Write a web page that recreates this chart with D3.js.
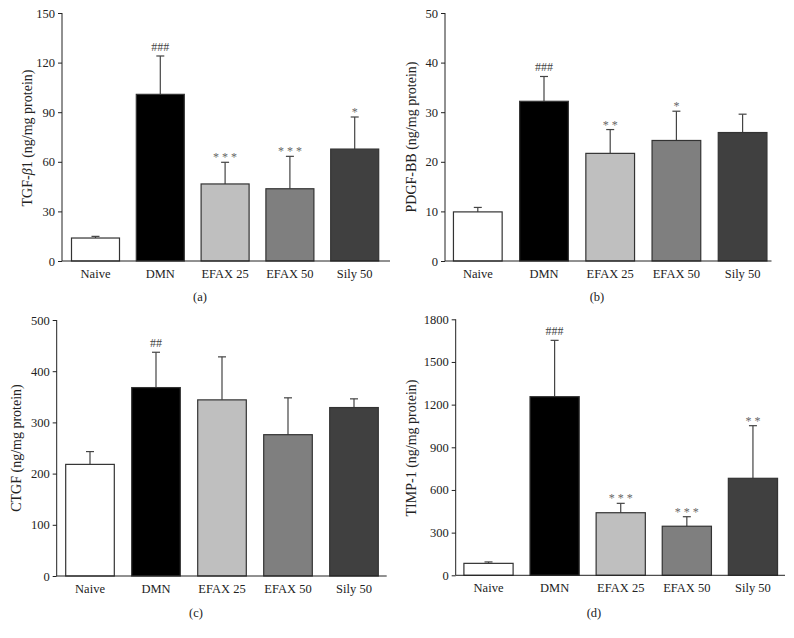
<!DOCTYPE html>
<html>
<head>
<meta charset="utf-8">
<script src="https://cdn.jsdelivr.net/npm/d3@7"></script>
<style>
  html, body { margin: 0; padding: 0; background: #fff; }
  svg { display: block; }
  text { font-family: "Liberation Serif", "DejaVu Serif", serif; fill: #222; }
</style>
</head>
<body>
<svg id="chart" width="794" height="638"></svg>
<script>
// ---------- Data ----------
const categories = ["Naive", "DMN", "EFAX 25", "EFAX 50", "Sily 50"];
const barFills = ["#ffffff", "#000000", "#bfbfbf", "#7f7f7f", "#404040"];

const tgfMean = [13.9, 100.8, 46.6, 43.7, 67.7];
const tgfErr  = [1.0, 23.2, 13.1, 19.6, 19.4];
const tgfAnno = ["", "###", "***", "***", "*"];
const tgfTicks = [0, 30, 60, 90, 120, 150];

const pdgfMean = [9.9, 32.2, 21.7, 24.3, 25.9];
const pdgfErr  = [0.9, 5.0, 4.8, 5.9, 3.7];
const pdgfAnno = ["", "###", "**", "*", ""];
const pdgfTicks = [0, 10, 20, 30, 40, 50];

const ctgfMean = [218, 368, 344, 276, 329];
const ctgfErr  = [25, 69, 84, 72, 17];
const ctgfAnno = ["", "##", "", "", ""];
const ctgfTicks = [0, 100, 200, 300, 400, 500];

const timpMean = [84, 1256, 440, 345, 682];
const timpErr  = [10, 396, 66, 67, 370];
const timpAnno = ["", "###", "***", "***", "**"];
const timpTicks = [0, 300, 600, 900, 1200, 1500, 1800];

// ---------- Layout ----------
const panels = [
  { mean: tgfMean, err: tgfErr, anno: tgfAnno, ticks: tgfTicks, label: "a",
    axisX: 62, axisEnd: 390, y0: 261, yTop: 13, band: [63.1, 387.1], bw: 48,
    ylabX: 27, ylabY: 138, panX: 200, panY: 301, title: "tgf" },
  { mean: pdgfMean, err: pdgfErr, anno: pdgfAnno, ticks: pdgfTicks, label: "b",
    axisX: 445, axisEnd: 771.5, y0: 261, yTop: 13, band: [444.7, 775.7], bw: 48.7,
    ylabX: 411, ylabY: 137, panX: 597, panY: 301, title: "PDGF-BB (ng/mg protein)" },
  { mean: ctgfMean, err: ctgfErr, anno: ctgfAnno, ticks: ctgfTicks, label: "c",
    axisX: 56.7, axisEnd: 386.7, y0: 576, yTop: 320, band: [57, 387], bw: 48.6,
    ylabX: 16, ylabY: 448, panX: 196, panY: 617, title: "CTGF (ng/mg protein)" },
  { mean: timpMean, err: timpErr, anno: timpAnno, ticks: timpTicks, label: "d",
    axisX: 455.7, axisEnd: 785, y0: 575.3, yTop: 319.3, band: [455.45, 786], bw: 49.2,
    ylabX: 411.5, ylabY: 448, panX: 594, panY: 617, title: "TIMP-1 (ng/mg protein)" }
];

const svg = d3.select("#chart");

panels.forEach(p => {
  const g = svg.append("g");
  const yMax = p.ticks[p.ticks.length - 1];
  const y = d3.scaleLinear().domain([0, yMax]).range([p.y0, p.yTop]);
  const step = (p.band[1] - p.band[0]) / categories.length;
  const pad = 1 - p.bw / step;
  const x = d3.scaleBand().domain(categories).range(p.band)
    .paddingInner(pad).paddingOuter(pad / 2);

  const rows = categories.map((c, i) => ({ c, m: p.mean[i], e: p.err[i], a: p.anno[i], f: barFills[i] }));

  // error bars (drawn before bars so the bar covers the lower part)
  const eb = g.append("g");
  rows.forEach(r => {
    const cx = x(r.c) + x.bandwidth() / 2;
    eb.append("line").attr("x1", cx).attr("x2", cx)
      .attr("y1", y(r.m)).attr("y2", y(r.m + r.e))
      .attr("stroke", "#444").attr("stroke-width", 1.2);
    eb.append("line").attr("x1", cx - 4).attr("x2", cx + 4)
      .attr("y1", y(r.m + r.e)).attr("y2", y(r.m + r.e))
      .attr("stroke", "#444").attr("stroke-width", 1.2);
  });

  g.append("g").selectAll("rect").data(rows).join("rect")
    .attr("x", d => x(d.c))
    .attr("width", x.bandwidth())
    .attr("y", d => y(d.m))
    .attr("height", d => y(0) - y(d.m))
    .attr("fill", d => d.f)
    .attr("stroke", "#333")
    .attr("stroke-width", 1.2);

  // annotations
  g.append("g").selectAll("text").data(rows.filter(r => r.a)).join("text")
    .attr("x", d => x(d.c) + x.bandwidth() / 2 + (d.a[0] === "*" ? 1.5 : 0))
    .attr("y", d => y(d.m + d.e) - (d.a[0] === "*" ? 1 : 5))
    .attr("text-anchor", "middle")
    .attr("font-size", 12)
    .attr("letter-spacing", d => d.a[0] === "*" ? 3 : 0)
    .style("fill", d => d.a[0] === "*" ? "#666" : "#444")
    .text(d => d.a);

  // y axis
  const yAxis = d3.axisLeft(y).tickValues(p.ticks).tickSize(4).tickPadding(3).tickFormat(d3.format("d"));
  const ya = g.append("g").attr("transform", `translate(${p.axisX},0)`).call(yAxis);
  ya.select(".domain").attr("d", `M0,${p.y0}V${p.yTop}`).attr("stroke", "#222").attr("stroke-width", 1);
  ya.selectAll(".tick line").attr("stroke", "#222");
  ya.selectAll(".tick text").attr("font-size", 12.5).style("font-family", "'Liberation Serif', serif").style("fill", "#222");

  // x axis
  const xAxis = d3.axisBottom(x).tickSize(0).tickPadding(8);
  const xa = g.append("g").attr("transform", `translate(0,${p.y0})`).call(xAxis);
  xa.select(".domain").attr("d", `M${p.axisX},0H${p.axisEnd}`).attr("stroke", "#222").attr("stroke-width", 1);
  xa.selectAll(".tick text").attr("font-size", 12.5).style("font-family", "'Liberation Serif', serif").style("fill", "#222");

  // y label
  const yl = g.append("text")
    .attr("transform", `translate(${p.ylabX},${p.ylabY}) rotate(-90)`)
    .attr("text-anchor", "middle")
    .attr("dominant-baseline", "central")
    .attr("font-size", 14);
  if (p.title === "tgf") {
    yl.append("tspan").text("TGF-");
    yl.append("tspan").attr("font-style", "italic").text("β");
    yl.append("tspan").text("1 (ng/mg protein)");
  } else {
    yl.text(p.title);
  }

  // panel label
  g.append("text").attr("x", p.panX).attr("y", p.panY)
    .attr("text-anchor", "middle").attr("font-size", 12.5)
    .text(`(${p.label})`);
});
</script>
</body>
</html>
